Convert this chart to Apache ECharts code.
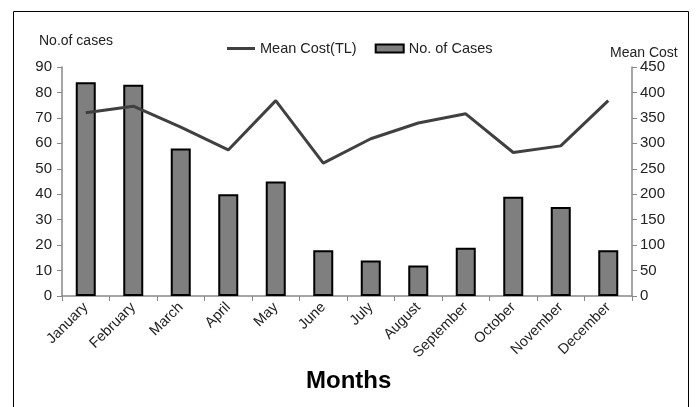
<!DOCTYPE html>
<html><head><meta charset="utf-8">
<script src="https://cdn.jsdelivr.net/npm/echarts@6/dist/echarts.min.js"></script>
<style>html,body{margin:0;padding:0;background:#fff}#c{width:696px;height:407px}</style>
</head><body><div id="c"></div>
<script>
const months = ["January","February","March","April","May","June","July","August","September","October","November","December"];
const cases = [84, 83, 58, 40, 45, 18, 14, 12, 19, 39, 35, 18];
const meanCost = [360, 373, 332, 287, 384, 261, 309, 340, 358, 282, 295, 384];
const leftTicks = {min: 0, max: 90, interval: 10};
const rightTicks = {min: 0, max: 450, interval: 50};

const font = "Liberation Sans";
const chart = echarts.init(document.getElementById('c'), null, {renderer: 'canvas'});
chart.setOption({
  animation: false,
  textStyle: {fontFamily: font},
  graphic: [
    {type: 'rect', shape: {x: 13.5, y: 11.5, width: 675, height: 410}, style: {fill: 'none', stroke: '#000', lineWidth: 1}},
    {type: 'text', left: 39, top: 34, style: {text: 'No.of cases', font: '14px ' + font, fill: '#222'}},
    {type: 'text', left: 610, top: 46, style: {text: 'Mean Cost', font: '14px ' + font, fill: '#222'}},
    {type: 'text', left: 306, top: 369, style: {text: 'Months', font: 'bold 24px ' + font, fill: '#000'}}
  ],
  legend: {
    top: 36, left: 222,
    itemGap: 18, itemWidth: 28, itemHeight: 8,
    textStyle: {fontSize: 14.5, color: '#222', fontFamily: font},
    data: [
      {name: 'Mean Cost(TL)', icon: 'path://M0,0H28V3H0Z'},
      {name: 'No. of Cases', icon: 'rect'}
    ]
  },
  grid: {left: 62, right: 64, top: 67, bottom: 111},
  xAxis: {
    type: 'category', data: months,
    axisLine: {lineStyle: {color: '#888', width: 1.5}},
    axisTick: {show: true, alignWithLabel: false, length: 5, lineStyle: {color: '#888'}},
    axisLabel: {rotate: 45, fontSize: 14.5, color: '#222', margin: 9, interval: 0}
  },
  yAxis: [
    {type: 'value', min: leftTicks.min, max: leftTicks.max, interval: leftTicks.interval,
     axisLine: {show: true, lineStyle: {color: '#888', width: 1.5}},
     axisTick: {show: true, length: 5, lineStyle: {color: '#888'}},
     splitLine: {show: false},
     axisLabel: {fontSize: 15, color: '#222', margin: 10}},
    {type: 'value', min: rightTicks.min, max: rightTicks.max, interval: rightTicks.interval,
     position: 'right',
     axisLine: {show: true, lineStyle: {color: '#888', width: 1.5}},
     axisTick: {show: true, length: 5, lineStyle: {color: '#888'}},
     splitLine: {show: false},
     axisLabel: {fontSize: 15, color: '#222', margin: 8}}
  ],
  series: [
    {name: 'No. of Cases', type: 'bar', yAxisIndex: 0, data: cases, barWidth: 20,
     itemStyle: {color: '#7f7f7f', borderColor: '#000', borderWidth: 2}, z: 1},
    {name: 'Mean Cost(TL)', type: 'line', yAxisIndex: 1, data: meanCost,
     symbol: 'none', lineStyle: {color: '#404040', width: 3}, itemStyle: {color: '#404040'}, z: 3}
  ]
});
</script></body></html>
